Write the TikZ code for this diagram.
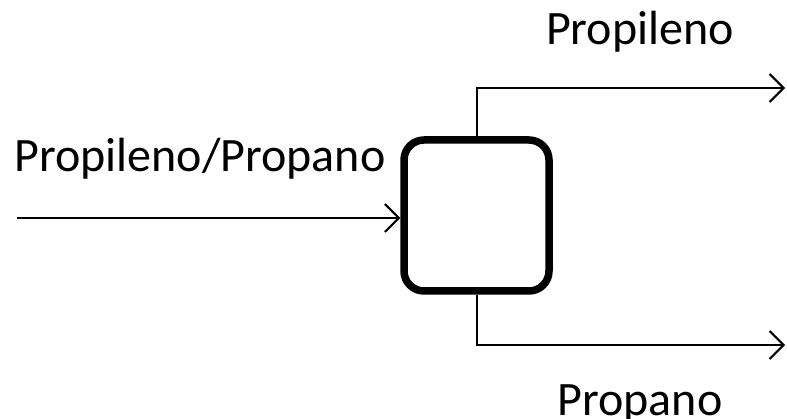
\documentclass[tikz,border=0pt]{standalone}
\usepackage{fontspec}
\setmainfont{Carlito}
\usetikzlibrary{arrows.meta}

\begin{document}
\begin{tikzpicture}[
        x=1pt, y=-1pt,
        unit/.style={draw, line width=7.5pt, rounded corners=20pt, minimum width=145pt, minimum height=151pt, inner sep=0pt},
        flow/.style={-{Straight Barb[length=14pt, width=28pt, line width=2pt]}, line width=2pt},
        stream/.style={anchor=base, font=\fontsize{48}{57}\selectfont}
    ]
        \useasboundingbox (0,0) rectangle (787,419);

        \node[unit] (sep) at (476.5,215.5) {};
        \coordinate (feed) at (17,218);
        \coordinate (top) at (785,88);
        \coordinate (bottom) at (785,345);

        \draw[flow] (feed) -- (feed -| sep.west);
        \draw[flow] (sep.north) |- (top);
        \draw[flow] (sep.south) |- (bottom);

        % stream names
        \node[stream] (feedlabel) at (200,172) {Propileno/Propano};
        \node[stream] (toplabel) at (640,45) {Propileno};
        \node[stream] (bottomlabel) at (640,415) {Propano};
    \end{tikzpicture}
\end{document}
